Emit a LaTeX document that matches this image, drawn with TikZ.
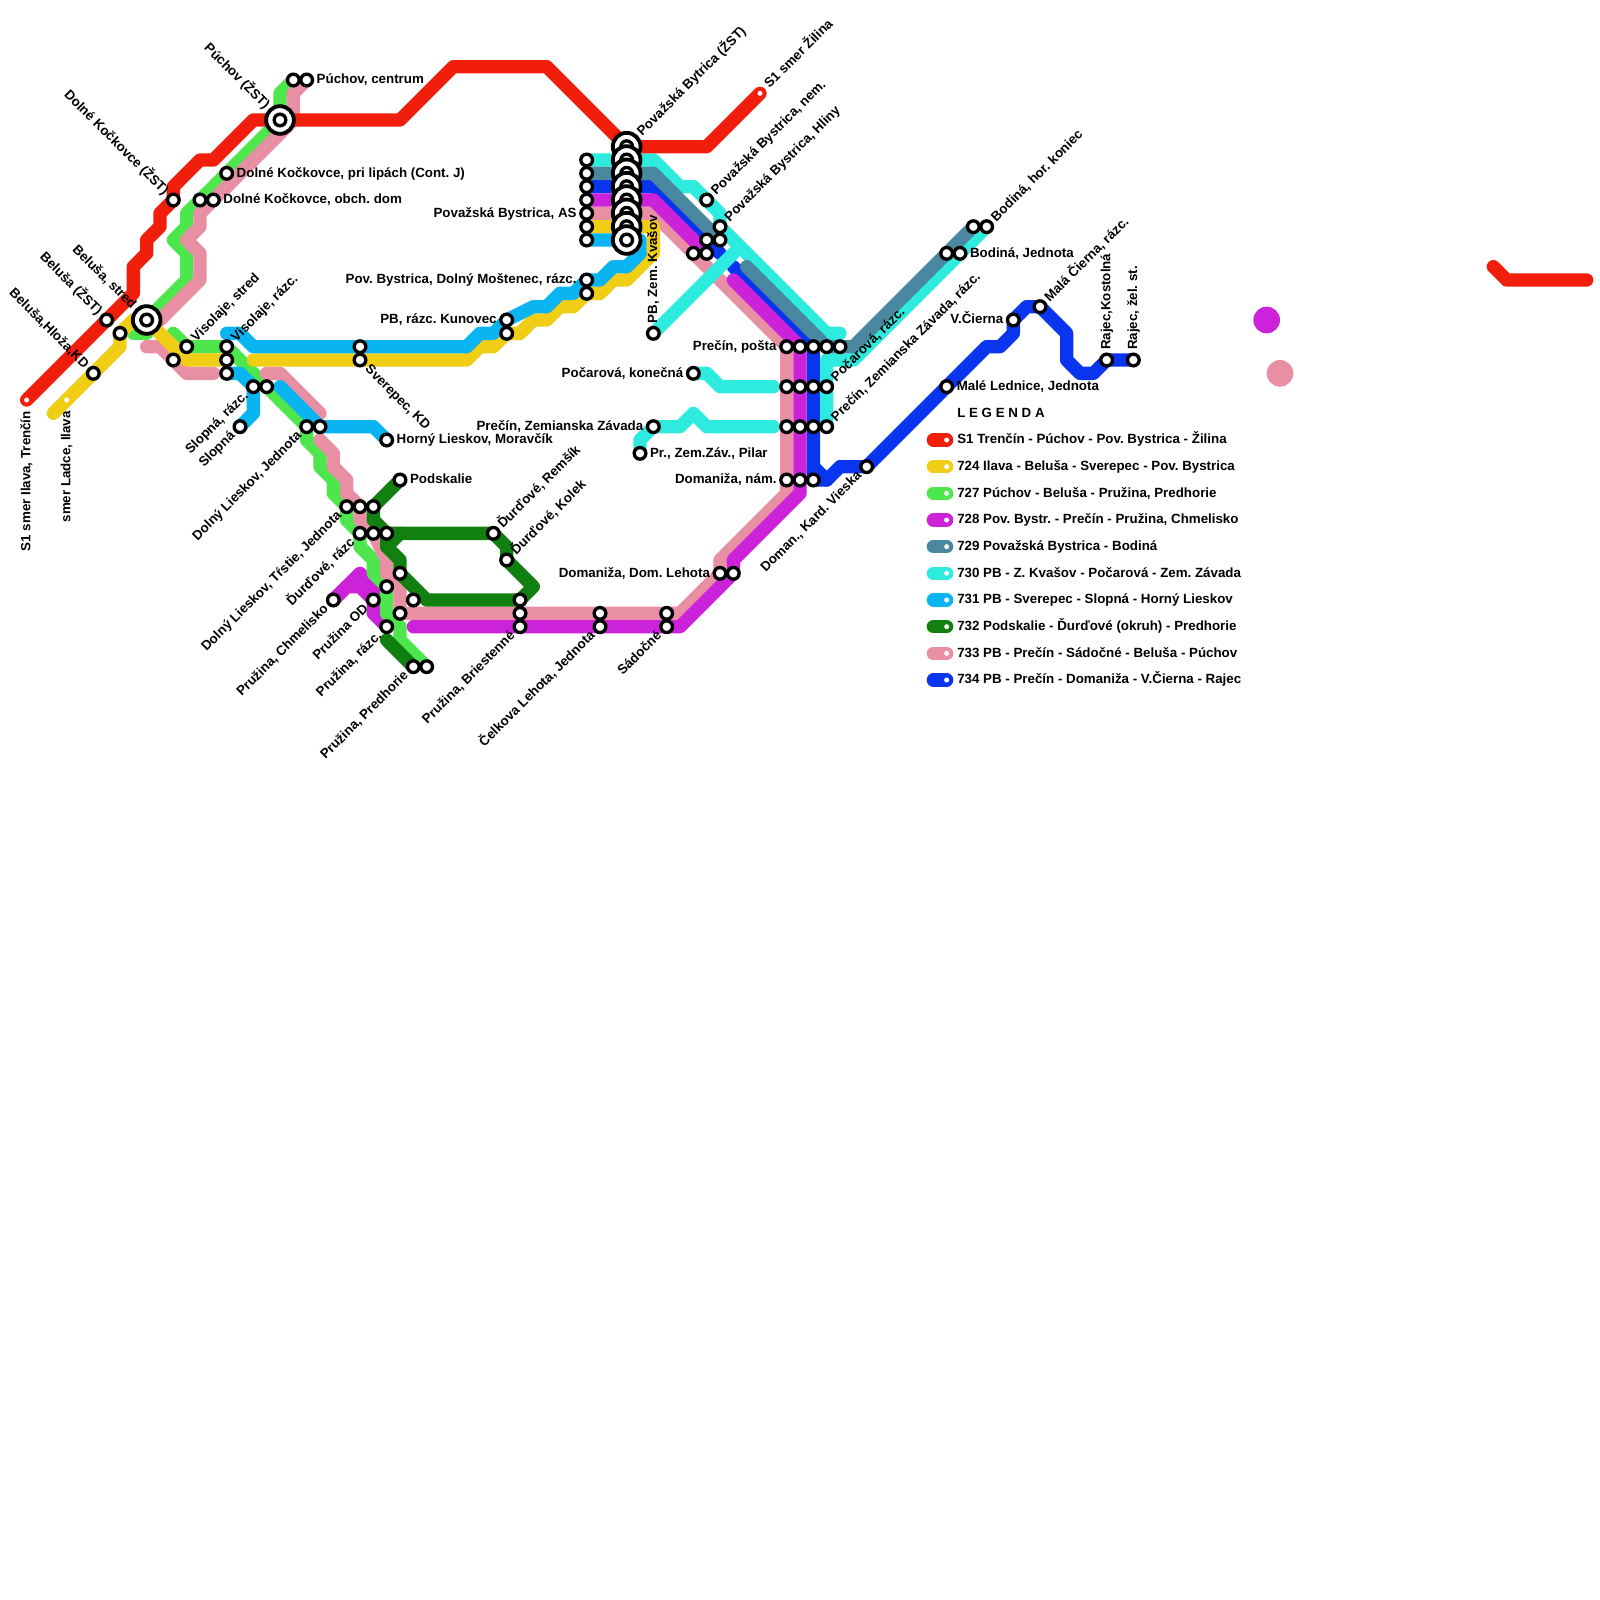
\documentclass[tikz,border=0pt]{standalone}
\usepackage{fontspec}
\setmainfont{Liberation Sans}
\definecolor{colSone}{HTML}{F01E0A}
\definecolor{colYellow}{HTML}{F0CE15}
\definecolor{colLime}{HTML}{4DE64D}
\definecolor{colPurple}{HTML}{CC22D9}
\definecolor{colSteel}{HTML}{4A889F}
\definecolor{colCyan}{HTML}{2EEBDF}
\definecolor{colSky}{HTML}{0AB4F0}
\definecolor{colGreen}{HTML}{118011}
\definecolor{colPink}{HTML}{E88FA3}
\definecolor{colBlue}{HTML}{0A35EE}
\newcommand{\stoplist}{puchovA/22/6, puchovC/23/6, kockLipy/17/13, kockZst/13/15, kockA/15/15, kockDom/16/15,
  belusaZst/8/24, belusaA/9/25, hloza/7/28, visStred/14/26, visA/13/27, visRazc/17/26, visB/17/27, visC/17/28,
  sverA/27/26, sverKd/27/27, slopRazc/19/29, slopA/20/29, slopna/18/32, dlJedn/23/32, dlA/24/32, hlMor/29/33,
  podsk/30/36, tristie/26/38, tristA/27/38, tristB/28/38, durRazc/27/40, durA/28/40, durB/29/40,
  durRem/37/40, durKol/38/42, chmel/25/45, pruA/30/43, pruB/29/44, pruC/31/45, pruD/30/46, pruOd/28/45,
  pruRazc/29/47, pred/31/50, predA/32/50, briA/39/45, briB/39/46, bries/39/47, celA/45/46, celk/45/47,
  sadA/50/46, sad/50/47, dlehota/54/43, dlehA/55/43, pbAa/44/12, pbAb/44/13, pbAc/44/14, pbAd/44/15,
  pbAs/44/16, pbAf/44/17, pbAg/44/18, mostA/44/21, most/44/22, kunov/38/24, kunovA/38/25, kvasov/49/25,
  pbNem/53/15, hliny/54/17, hlinyA/54/18, hlinyB/53/18, hlinyC/53/19, hlinyD/52/19, pocKon/52/28,
  zemZav/49/32, zemPil/48/34, postaA/59/26, postaB/60/26, postaC/61/26, postaD/62/26, postaE/63/26,
  pocA/59/29, pocB/60/29, pocC/61/29, pocRazc/62/29, zemA/59/32, zemB/60/32, zemC/61/32, zemRazc/62/32,
  domNam/59/36, domA/60/36, domB/61/36, kard/65/35, bodJedn/71/19, bodA/72/19, bodB/73/17, bodKon/74/17,
  lednice/71/29, vcierna/76/24, mcierna/78/23, rajKost/83/27, rajSt/85/27}
\newcommand{\hublist}{belusaStred/11/24, puchovZst/21/9, pbZa/47/11, pbZb/47/12, pbZc/47/13, pbZd/47/14,
  pbZe/47/15, pbZf/47/16, pbZg/47/17, pbZh/47/18}
\begin{document}
\begin{tikzpicture}[x=0.4cm, y=-0.4cm,
    route/.style={line width=0.4cm, line cap=round, line join=round},
    stopnode/.style={circle, draw=black, fill=white, line width=0.1cm, minimum size=0.35cm, inner sep=0pt},
    hubnode/.style={circle, draw=black, fill=white, line width=0.115cm, minimum size=0.83cm, inner sep=0pt},
    enddot/.style={circle, fill=white, minimum size=0.15cm, inner sep=0pt},
    bigdot/.style={circle, minimum size=0.8cm, inner sep=0pt},
    lbl/.style={font=\bfseries\fontsize{11.38}{13}\selectfont\frenchspacing, inner sep=2pt, text height=1.6ex, text depth=.4ex},
    lblE/.style={lbl, anchor=west},
    lblW/.style={lbl, anchor=east},
    lblNE/.style={lbl, anchor=west, rotate=45},
    lblNW/.style={lbl, anchor=east, rotate=-45},
    lblSW/.style={lbl, anchor=east, rotate=45},
    lblSE/.style={lbl, anchor=west, rotate=-45},
    lblN/.style={lbl, anchor=west, rotate=90},
    lblS/.style={lbl, anchor=east, rotate=90, xshift=-5pt}]
    \useasboundingbox (0,0) rectangle (120,120);

    % Station positions
    \foreach \st/\x/\y in \stoplist { \coordinate (\st) at (\x,\y); }
    \foreach \st/\x/\y in \hublist { \coordinate (\st) at (\x,\y); }
    \coordinate (trencin) at (2,30);
    \coordinate (ilava) at (5,30);
    \coordinate (zilina) at (57,7);

    % Line 728, Chmelisko end
    \draw[route, colPurple] (chmel) -- (27,43) -- (29,45);
    \draw[route, colPurple] (chmel) -- (26,44) -- (27,44) -- (pruOd) -- (28,46) -- (pruRazc);
    % Line 727
    \draw[route, colLime] (puchovA) -- (21,7) -- (puchovZst) -- (14,16) -- (14,17) -- (13,18) -- (14,19) -- (14,21)
        -- (belusaStred) -- (10,25) -- (11,25);
    \draw[route, colLime] (13,25) -- (visStred) -- (visRazc) -- (dlJedn) -- (23,33) -- (24,34) -- (24,35) -- (25,36) -- (25,37)
        -- (tristie) -- (26,39) -- (durRazc) -- (27,41) -- (28,42) -- (28,43) -- (pruB) -- (29,46) -- (30,47) -- (30,48) -- (predA);
    % Line 733
    \draw[route, colPink] (pbAs) -- (49,16) -- (postaA) -- (domNam) -- (59,37) -- (54,42) -- (dlehota) -- (51,46) -- (pruD)
        -- (30,44) -- (29,43) -- (29,42) -- (durA) -- (27,39) -- (tristA) -- (26,37) -- (26,36) -- (25,35) -- (25,34) -- (24,33);
    \draw[route, colPink] (24,31) -- (21,28) -- (20,28);
    \draw[route, colPink] (16,28) -- (14,28) -- (12,26) -- (11,26);
    \draw[route, colPink] (12,24) -- (15,21) -- (15,19) -- (14,18) -- (15,17) -- (15,16) -- (22,9) -- (22,7) -- (puchovC);
    % Line 734
    \draw[route, colBlue] (pbAc) -- (49,14) -- (54,19);
    \draw[route, colBlue] (55,20) -- (postaC) -- (domB) -- (62,36) -- (63,35) -- (kard) -- (lednice) -- (74,26) -- (75,26)
        -- (76,25) -- (vcierna) -- (77,23) -- (mcierna) -- (80,25) -- (80,27) -- (81,28) -- (82,28) -- (rajKost) -- (rajSt);
    \draw[route, colBlue] (61,35) -- (62,36);
    % Line 728
    \draw[route, colPurple] (pbAd) -- (49,15) -- (hlinyC);
    \draw[route, colPurple] (55,21) -- (postaB) -- (domA) -- (60,37) -- (55,42) -- (dlehA) -- (51,47) -- (31,47);
    % Line 730, under 729
    \draw[route, colCyan] (pbAa) -- (49,12) -- (51,14) -- (52,14) -- (pbNem) -- (54,16) -- (hliny) -- (55,18) -- (62,25) -- (63,25);
    \draw[route, colCyan] (zemRazc) -- (62,27) -- (64,27) -- (bodKon);
    % Line 729
    \draw[route, colSteel] (pbAb) -- (49,13) -- (hlinyA);
    \draw[route, colSteel] (56,20) -- (61,25) -- (postaD) -- (64,26) -- (bodB);
    % Line 732
    \draw[route, colGreen] (podsk) -- (tristB) -- (28,39) -- (durB) -- (29,41) -- (30,42) -- (pruA) -- (32,45) -- (briA)
        -- (40,44) -- (durKol) -- (38,41) -- (durRem) -- (durB);
    \draw[route, colGreen] (29,41) -- (30,40);
    \draw[route, colGreen] (29,48) -- (pred);
    % Line 724
    \draw[route, colYellow] (pbAf) -- (49,17) -- (49,19) -- (47,21) -- (46,21) -- (45,22) -- (most) -- (43,23) -- (42,23)
        -- (41,24) -- (40,24) -- (39,25) -- (kunovA) -- (37,26) -- (36,26) -- (35,27) -- (19,27);
    \draw[route, colYellow] (visB) -- (14,27) -- (belusaStred) -- (10,24) -- (belusaA) -- (9,26) -- (4,31);
    % Line 731
    \draw[route, colSky] (pbAg) -- (48,18) -- (48,19) -- (47,20) -- (46,20) -- (45,21) -- (mostA) -- (43,22) -- (42,22) -- (41,23)
        -- (40,23) -- (kunov) -- (37,25) -- (36,25) -- (35,26) -- (19,26) -- (18,25) -- (17,25);
    \draw[route, colSky] (visC) -- (18,28) -- (slopRazc) -- (19,31) -- (slopna);
    \draw[route, colSky] (21,29) -- (24,32) -- (28,32) -- (hlMor);
    % Line S1
    \draw[route, colSone] (trencin) -- (10,22) -- (10,20) -- (11,19) -- (11,18) -- (12,17) -- (12,16) -- (kockZst) -- (13,14)
        -- (15,12) -- (16,12) -- (19,9) -- (30,9) -- (34,5) -- (41,5) -- (pbZa) -- (53,11) -- (zilina);
    \draw[route, colSone] (112,20) -- (113,21) -- (119,21);
    % Line 730, branches
    \draw[route, colCyan] (kvasov) -- (55,19);
    \draw[route, colCyan] (pocKon) -- (53,28) -- (54,29) -- (58,29);
    \draw[route, colCyan] (zemPil) -- (48,33) -- (zemZav) -- (51,32) -- (52,31) -- (53,32) -- (58,32);

    % Stations
    \node[enddot] (trencin) at (2,30) {};
    \node[enddot] (ilava) at (5,30) {};
    \node[enddot] (zilina) at (57,7) {};
    \foreach \st/\x/\y in \stoplist { \node[stopnode] (\st) at (\x,\y) {}; }
    \foreach \st/\x/\y in \hublist {
        \node[hubnode] (\st) at (\x,\y) {};
        \node[stopnode] (\st c) at (\x,\y) {};
    }

    % Loose dots
    \node[bigdot, fill=colPurple] (dotPurple) at (95,24) {};
    \node[bigdot, fill=colPink] (dotPink) at (96,28) {};

    % Labels
    \foreach \st/\txt in {puchovC/{Púchov, centrum}, kockLipy/{Dolné Kočkovce, pri lipách (Cont. J)}, kockDom/{Dolné Kočkovce, obch. dom},
        hlMor/{Horný Lieskov, Moravčík}, podsk/Podskalie, zemPil/{Pr., Zem.Záv., Pilar}, bodA/{Bodiná, Jednota}, lednice/{Malé Lednice, Jednota}}
        \node[lblE] (t\st) at (\st.east) {\txt};
    \foreach \st/\txt in {pbAs/{Považská Bystrica, AS}, mostA/{Pov. Bystrica, Dolný Moštenec, rázc.}, kunov/{PB, rázc. Kunovec}, pocKon/{Počarová, konečná},
        zemZav/{Prečín, Zemianska Závada}, postaA/{Prečín, pošta}, domNam/{Domaniža, nám.}, dlehota/{Domaniža, Dom. Lehota}, vcierna/V.Čierna}
        \node[lblW] (t\st) at (\st.west) {\txt};
    \foreach \st/\txt in {pbZa/{Považská Bytrica (ŽST)}, pbNem/{Považská Bystrica, nem.}, hliny/{Považská Bystrica, Hliny},
        visStred/{Visolaje, stred}, visRazc/{Visolaje, rázc.}, durRem/{Ďurďové, Remšík}, durKol/{Ďurďové, Kolek}, pocRazc/{Počarová, rázc.},
        zemRazc/{Prečín, Zemianska Závada, rázc.}, bodKon/{Bodiná, hor. koniec}, mcierna/{Malá Čierna, rázc.}}
        \node[lblNE] (t\st) at (\st.north east) {\txt};
    \node[lblNE, xshift=4pt] (tzilina) at (zilina.north east) {S1 smer Žilina};
    \foreach \st/\txt in {puchovZst/{Púchov (ŽST)}, kockZst/{Dolné Kočkovce (ŽST)}, belusaStred/{Beluša, stred}, belusaZst/{Beluša (ŽST)}, hloza/{Beluša,Hloža,KD}}
        \node[lblNW] (t\st) at (\st.north west) {\txt};
    \foreach \st/\txt in {slopRazc/{Slopná, rázc.}, slopna/Slopná, dlJedn/{Dolný Lieskov, Jednota}, tristie/{Dolný Lieskov, Tŕstie, Jednota},
        durRazc/{Ďurďové, rázc}, chmel/{Pružina, Chmelisko}, pruOd/{Pružina OD}, pruRazc/{Pružina, rázc.}, pred/{Pružina, Predhorie},
        bries/{Pružina, Briestenné}, celk/{Čelkova Lehota, Jednota}, sad/Sádočné, kard/{Doman., Kard. Vieska}}
        \node[lblSW] (t\st) at (\st.south west) {\txt};
    \node[lblSE] (tsverKd) at (sverKd.south east) {Sverepec, KD};
    \foreach \st/\txt in {kvasov/{PB, Zem. Kvašov}, rajKost/{Rajec,Kostolná}, rajSt/{Rajec, žel. st.}}
        \node[lblN] (t\st) at (\st.north) {\txt};
    \foreach \st/\txt in {trencin/{S1 smer Ilava, Trenčín}, ilava/{smer Ladce, Ilava}}
        \node[lblS] (t\st) at (\st.south) {\txt};

    % Legend
    \node[lblE] (legTitle) at (71.6,31) {L E G E N D A};
    \foreach \col/\txt [count=\i] in {colSone/{S1 Trenčín - Púchov - Pov. Bystrica - Žilina}, colYellow/{724 Ilava - Beluša - Sverepec - Pov. Bystrica},
        colLime/{727 Púchov - Beluša - Pružina, Predhorie}, colPurple/{728 Pov. Bystr. - Prečín - Pružina, Chmelisko}, colSteel/{729 Považská Bystrica - Bodiná},
        colCyan/{730 PB - Z. Kvašov - Počarová - Zem. Závada}, colSky/{731 PB - Sverepec - Slopná - Horný Lieskov}, colGreen/{732 Podskalie - Ďurďové (okruh) - Predhorie},
        colPink/{733 PB - Prečín - Sádočné - Beluša - Púchov}, colBlue/{734 PB - Prečín - Domaniža - V.Čierna - Rajec}} {
        \pgfmathsetmacro{\rowy}{31+2*\i}
        \coordinate (legA\i) at (70,\rowy);
        \coordinate (legB\i) at (71,\rowy);
        \draw[route, \col] (legA\i) -- (legB\i);
        \node[enddot] (legDot\i) at (legB\i) {};
        \node[lblE, xshift=4.5pt] (legText\i) at (legDot\i.east) {\txt};
    }
\end{tikzpicture}
\end{document}
